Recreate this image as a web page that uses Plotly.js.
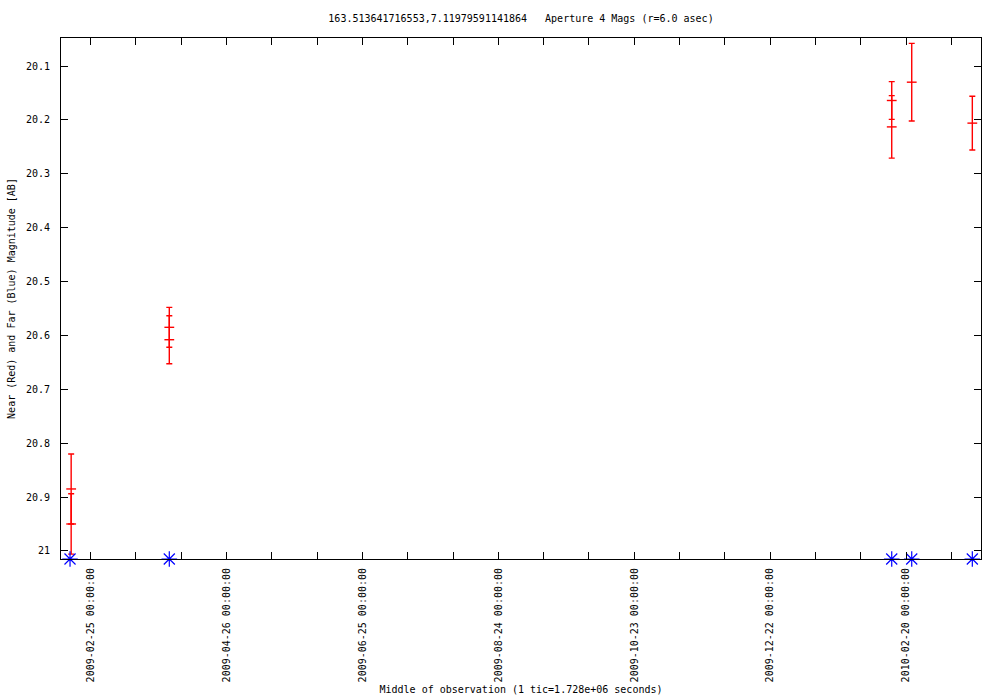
<!DOCTYPE html>
<html>
<head>
<meta charset="utf-8">
<script src="https://cdn.plot.ly/plotly-3.0.1.min.js"></script>
<style>html,body{margin:0;padding:0;background:#fff;}#chart{width:1000px;height:700px;}</style>
</head>
<body>
<div id="chart"></div>
<script>
// Near (red) measurements: date, magnitude, error
const nearDates = ['2009-02-16 09:00','2009-02-16 09:00','2009-03-31 17:00','2009-03-31 17:00',
                   '2010-02-13 16:30','2010-02-13 16:30','2010-02-22 12:30','2010-03-21 06:30'];
const nearMag = [20.885, 20.950, 20.585, 20.608, 20.164, 20.213, 20.130, 20.206];
const nearErr = [0.065, 0.056, 0.037, 0.0445, 0.035, 0.058, 0.072, 0.050];

// Far (blue) measurements (sit on the bottom of the axis)
const farDates = ['2009-02-15 21:00','2009-03-31 17:00','2010-02-13 16:30','2010-02-22 12:30','2010-03-21 06:30'];
const farMag = [21.015, 21.015, 21.015, 21.015, 21.015];

// Axis ticks
const xTickVals = ['2009-02-25','2009-03-17','2009-04-06','2009-04-26','2009-05-16','2009-06-05',
                   '2009-06-25','2009-07-15','2009-08-04','2009-08-24','2009-09-13','2009-10-03',
                   '2009-10-23','2009-11-12','2009-12-02','2009-12-22','2010-01-11','2010-01-31',
                   '2010-02-20','2010-03-12'];
const xTickText = ['2009-02-25 00:00:00','','','2009-04-26 00:00:00','','',
                   '2009-06-25 00:00:00','','','2009-08-24 00:00:00','','',
                   '2009-10-23 00:00:00','','','2009-12-22 00:00:00','','',
                   '2010-02-20 00:00:00',''];
const yTickVals = [20.1, 20.2, 20.3, 20.4, 20.5, 20.6, 20.7, 20.8, 20.9, 21.0];
const yTickText = ['20.1','20.2','20.3','20.4','20.5','20.6','20.7','20.8','20.9','21'];

const xRange = ['2009-02-11 21:20', '2010-03-25 02:30'];
const yRange = [21.015, 20.048];

const FONT = 'DejaVu Sans Mono, monospace';

const traces = [
  {
    type: 'scatter', mode: 'markers', x: nearDates, y: nearMag,
    error_y: {type: 'data', array: nearErr, visible: true, color: '#ff0000', thickness: 1.4, width: 3},
    marker: {symbol: 'line-ew', size: 7, color: '#ff0000', line: {color: '#ff0000', width: 1.4}},
    showlegend: false, cliponaxis: false
  },
  {
    type: 'scatter', mode: 'markers', x: farDates, y: farMag,
    marker: {symbol: 'asterisk-open', size: 13, color: '#0000ff', line: {color: '#0000ff', width: 1.2}},
    showlegend: false, cliponaxis: false
  }
];

const layout = {
  width: 1000, height: 700,
  paper_bgcolor: '#ffffff', plot_bgcolor: '#ffffff',
  margin: {l: 61, r: 19, t: 38, b: 141},
  font: {family: FONT, size: 10, color: '#000000'},
  title: {
    text: '163.513641716553,7.11979591141864\u00a0\u00a0\u00a0Aperture 4 Mags (r=6.0 asec)',
    font: {family: FONT, size: 10, color: '#000000'},
    x: 0.521, xref: 'container', xanchor: 'center',
    y: 1 - 18/700, yref: 'container', yanchor: 'middle'
  },
  xaxis: {
    type: 'date', range: xRange, autorange: false,
    tickmode: 'array', tickvals: xTickVals, ticktext: xTickText,
    tickangle: -90, ticks: 'inside', ticklen: 7, tickcolor: '#000', tickwidth: 1,
    showline: true, linecolor: '#000', linewidth: 1, mirror: 'allticks',
    showgrid: false, zeroline: false, ticklabelstandoff: 4,
    tickfont: {family: FONT, size: 10, color: '#000'},
    title: {text: 'Middle of observation (1 tic=1.728e+06 seconds)', font: {family: FONT, size: 10, color: '#000'}, standoff: 4},
    automargin: false
  },
  yaxis: {
    range: yRange, autorange: false,
    tickmode: 'array', tickvals: yTickVals, ticktext: yTickText,
    ticks: 'inside', ticklen: 7, tickcolor: '#000', tickwidth: 1,
    showline: true, linecolor: '#000', linewidth: 1, mirror: 'allticks',
    showgrid: false, zeroline: false, ticklabelstandoff: 8,
    tickfont: {family: FONT, size: 10, color: '#000'},
    title: {text: 'Near (Red) and Far (Blue) Magnitude [AB]', font: {family: FONT, size: 10, color: '#000'}, standoff: 8},
    automargin: false
  }
};

Plotly.newPlot('chart', traces, layout, {displayModeBar: false, staticPlot: true});
</script>
</body>
</html>
